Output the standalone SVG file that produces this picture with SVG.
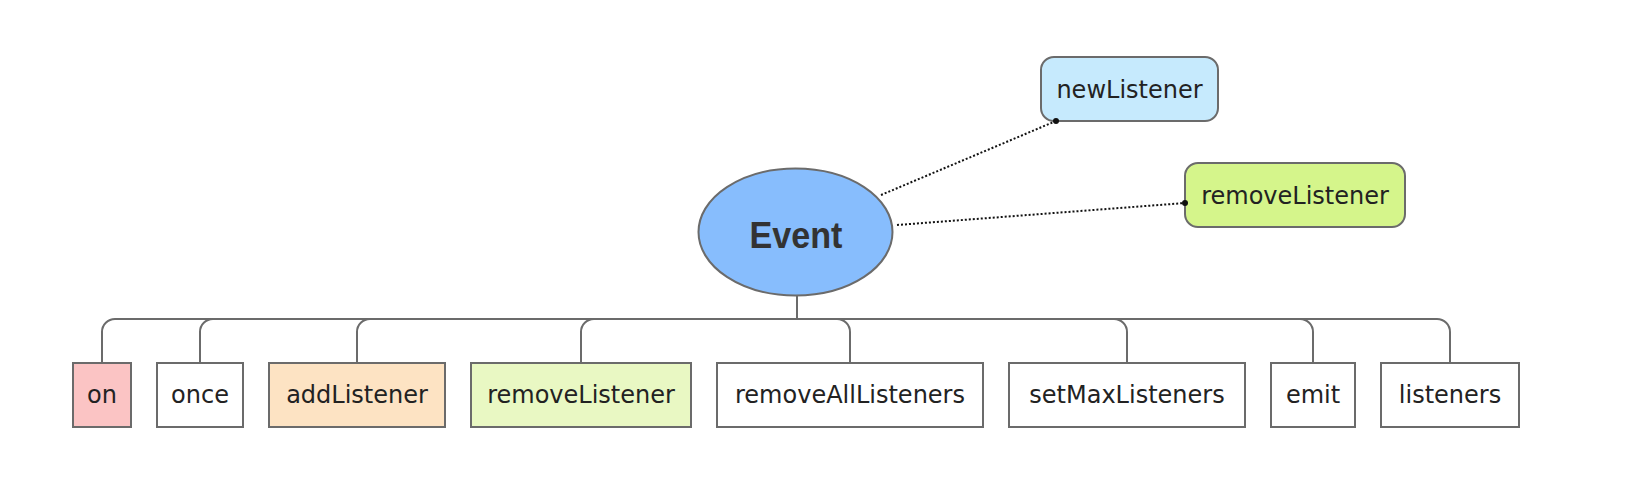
<svg xmlns="http://www.w3.org/2000/svg" width="1636" height="486" viewBox="0 0 1636 486">
<style>
.box{stroke:#6b6b6b;stroke-width:2}
.tree{fill:none;stroke:#6b6b6b;stroke-width:2}
.dot{fill:none;stroke:#111;stroke-width:2;stroke-dasharray:2 2}
.lbl{font-family:"DejaVu Sans",sans-serif;font-size:24px;fill:#222;text-anchor:middle}
.ev{font-family:"Liberation Sans",Arial,sans-serif;font-weight:bold;font-size:37px;fill:#333;text-anchor:middle}
</style>
<rect width="1636" height="486" fill="#ffffff"/>
<g id="event">
<ellipse cx="795.5" cy="232" rx="97" ry="63.5" fill="#87bdfd" stroke="#6b6b6b" stroke-width="2"/>
<text class="ev" x="796" y="248" textLength="93" lengthAdjust="spacingAndGlyphs">Event</text>
</g>
<g id="newListener">
<rect class="box" x="1041" y="57" width="177" height="64" rx="13" fill="#c6eafd"/>
<text class="lbl" x="1129.5" y="98">newListener</text>
</g>
<g id="removeListenerEvent">
<rect class="box" x="1185" y="163" width="220" height="64" rx="13" fill="#d5f58b"/>
<text class="lbl" x="1295" y="204">removeListener</text>
</g>
<g id="on">
<rect class="box" x="73" y="363" width="58" height="64" fill="#fbc4c4"/>
<text class="lbl" x="102" y="403">on</text>
</g>
<g id="once">
<rect class="box" x="157" y="363" width="86" height="64" fill="#ffffff"/>
<text class="lbl" x="200" y="403">once</text>
</g>
<g id="addListener">
<rect class="box" x="269" y="363" width="176" height="64" fill="#fde3c3"/>
<text class="lbl" x="357" y="403">addListener</text>
</g>
<g id="removeListener">
<rect class="box" x="471" y="363" width="220" height="64" fill="#e9f8c3"/>
<text class="lbl" x="581" y="403">removeListener</text>
</g>
<g id="removeAllListeners">
<rect class="box" x="717" y="363" width="266" height="64" fill="#ffffff"/>
<text class="lbl" x="850" y="403">removeAllListeners</text>
</g>
<g id="setMaxListeners">
<rect class="box" x="1009" y="363" width="236" height="64" fill="#ffffff"/>
<text class="lbl" x="1127" y="403">setMaxListeners</text>
</g>
<g id="emit">
<rect class="box" x="1271" y="363" width="84" height="64" fill="#ffffff"/>
<text class="lbl" x="1313" y="403">emit</text>
</g>
<g id="listeners">
<rect class="box" x="1381" y="363" width="138" height="64" fill="#ffffff"/>
<text class="lbl" x="1450" y="403">listeners</text>
</g>
<g id="connectors">
<path class="tree" d="M797,296 V319 H115 A13,13 0 0 0 102,332 V362"/>
<path class="tree" d="M797,296 V319 H213 A13,13 0 0 0 200,332 V362"/>
<path class="tree" d="M797,296 V319 H370 A13,13 0 0 0 357,332 V362"/>
<path class="tree" d="M797,296 V319 H594 A13,13 0 0 0 581,332 V362"/>
<path class="tree" d="M797,296 V319 H837 A13,13 0 0 1 850,332 V362"/>
<path class="tree" d="M797,296 V319 H1114 A13,13 0 0 1 1127,332 V362"/>
<path class="tree" d="M797,296 V319 H1300 A13,13 0 0 1 1313,332 V362"/>
<path class="tree" d="M797,296 V319 H1437 A13,13 0 0 1 1450,332 V362"/>
<line class="dot" x1="881" y1="195" x2="1056" y2="121"/>
<circle cx="1056" cy="121" r="3" fill="#111"/>
<line class="dot" x1="897" y1="225" x2="1185" y2="203"/>
<circle cx="1185" cy="203" r="3" fill="#111"/>
</g>
</svg>
